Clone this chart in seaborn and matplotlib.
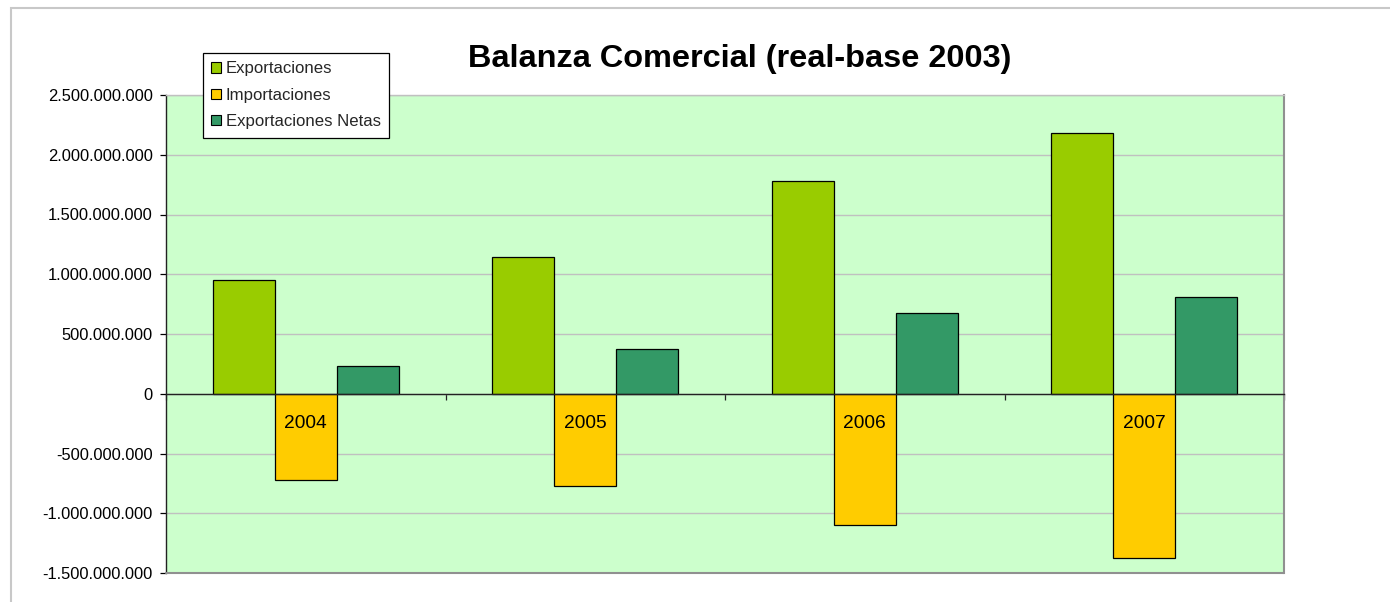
import matplotlib
matplotlib.use("Agg")
import matplotlib.pyplot as plt
import matplotlib.patches as mpatches
from matplotlib.ticker import FixedLocator, FuncFormatter
import seaborn as sns
import pandas as pd

# ---- data ----
years = ["2004", "2005", "2006", "2007"]
series = ["Exportaciones", "Importaciones", "Exportaciones Netas"]
exportaciones = [952e6, 1142e6, 1778e6, 2185e6]
importaciones = [-722e6, -768e6, -1102e6, -1372e6]
exportaciones_netas = [229e6, 375e6, 676e6, 810e6]
colors = ["#99CC00", "#FFCC00", "#339966"]
y_ticks = [-1.5e9, -1.0e9, -0.5e9, 0, 0.5e9, 1.0e9, 1.5e9, 2.0e9, 2.5e9]

rows = []
for name, vals in zip(series, [exportaciones, importaciones, exportaciones_netas]):
    for y, v in zip(years, vals):
        rows.append({"Año": y, "Serie": name, "Valor": v})
df = pd.DataFrame(rows)

sns.set_theme(style="white")
plt.rcParams["font.family"] = ["Liberation Sans", "DejaVu Sans"]

W, H = 1390, 602
fig = plt.figure(figsize=(W / 100, H / 100), dpi=100)
L, R, T, B = 166, 1284, 95, 573
ax = fig.add_axes([L / W, 1 - B / H, (R - L) / W, (B - T) / H])
ax.set_facecolor("#CCFFCC")

sns.barplot(data=df, x="Año", y="Valor", hue="Serie", hue_order=series,
            order=years, palette=colors, width=0.667, saturation=1,
            edgecolor="black", linewidth=0.9, ax=ax, legend=True, errorbar=None)

ax.set_axisbelow(True)
ax.set_ylim(-1.5e9, 2.5e9)
ax.set_xlim(-0.5, 3.5)
ax.yaxis.set_major_locator(FixedLocator(y_ticks))
ax.yaxis.set_major_formatter(FuncFormatter(lambda v, p: f"{v:,.0f}".replace(",", ".")))
ax.grid(axis="y", color="#c0c0c0", linewidth=1.0)
ax.grid(axis="x", visible=False)
ax.tick_params(axis="y", direction="out", length=4.5, width=0.9, color="black",
               pad=5, labelsize=11.9, labelcolor="black", left=True)
ax.set_xlabel("")
ax.set_ylabel("")

# category axis at zero
ax.spines["bottom"].set_position(("data", 0))
ax.spines["bottom"].set_color("#222222")
ax.spines["bottom"].set_linewidth(1.0)
ax.set_xticks([0, 1, 2, 3])
ax.set_xticklabels([])
ax.tick_params(axis="x", which="major", length=0)
ax.set_xticks([-0.5, 0.5, 1.5, 2.5, 3.5], minor=True)
ax.tick_params(axis="x", which="minor", direction="out", length=4, width=0.9,
               color="#222222", bottom=True)
for i, y in enumerate(years):
    ax.annotate(y, xy=(i, 0), xytext=(0, -21.2), textcoords="offset points",
                ha="center", va="center", fontsize=13.8, color="black", zorder=6)

ax.spines["left"].set_color("#222222")
ax.spines["left"].set_linewidth(1.0)
ax.spines["top"].set_color("#c0c0c0")
ax.spines["top"].set_linewidth(1.0)
ax.spines["right"].set_color("#909090")
ax.spines["right"].set_linewidth(1.5)
ax.axhline(-1.5e9, color="#909090", linewidth=1.5, clip_on=False, zorder=3)

# legend
handles, labels = ax.get_legend_handles_labels()
leg = ax.legend(handles, labels, loc="upper left",
                bbox_to_anchor=(203 / W, 1 - 53 / H), bbox_transform=fig.transFigure,
                frameon=True, fancybox=False, edgecolor="black", framealpha=1,
                fontsize=12.1, handlelength=0.55, handleheight=0.55, handletextpad=0.3,
                labelspacing=0.68, borderpad=0.5, borderaxespad=0)
leg.get_frame().set_linewidth(0.9)
for hnd in leg.legend_handles:
    hnd.set_edgecolor("black")
    hnd.set_linewidth(0.8)

fig.text(740 / W, 1 - 67 / H, "Balanza Comercial (real-base 2003)",
         ha="center", va="baseline", fontsize=23.4, fontweight="bold", color="black")

# outer chart border
fig.patches.append(mpatches.Rectangle((11 / W, -0.05), 1.2, 1 - 8 / H + 0.05,
                                      transform=fig.transFigure, fill=False,
                                      edgecolor="#c8c8c8", linewidth=1.5))

fig.savefig("out.png", dpi=100)
